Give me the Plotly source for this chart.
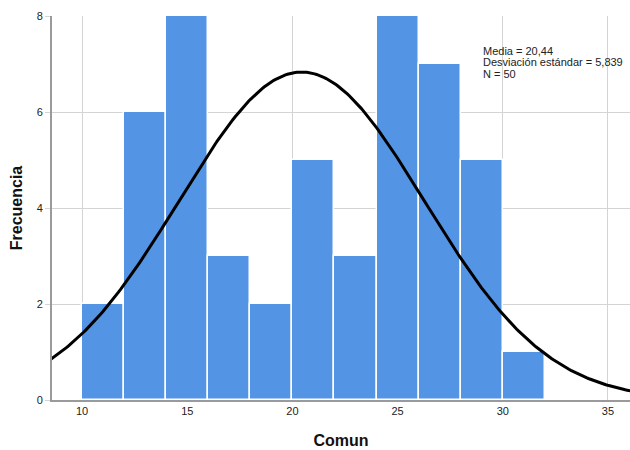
import numpy as np
import plotly.graph_objects as go

bin_starts = [10, 12, 14, 16, 18, 20, 22, 24, 26, 28, 30]
counts = [2, 6, 8, 3, 2, 5, 3, 8, 7, 5, 1]
bin_width = 2
mean = 20.44
sd = 5.839
n = 50
stats_lines = ["Media = 20,44", "Desviación estándar = 5,839", "N = 50"]

centers = [b + bin_width / 2 for b in bin_starts]

xs = np.linspace(8.5, 36.1, 300)
ys = n * bin_width / (sd * np.sqrt(2 * np.pi)) * np.exp(-0.5 * ((xs - mean) / sd) ** 2)

fig = go.Figure()
fig.add_trace(go.Bar(x=centers, y=counts, width=[bin_width] * len(counts),
                     marker=dict(color="#5494E4", line=dict(color="white", width=1.5)),
                     hoverinfo="skip"))
fig.add_trace(go.Scatter(x=xs, y=ys, mode="lines", line=dict(color="black", width=3),
                         hoverinfo="skip"))

annots = []
for i, t in enumerate(stats_lines):
    annots.append(dict(xref="x", yref="y", x=29.0, y=7.28 - i * 0.245, showarrow=False,
                       text=t, align="left", xanchor="left", yanchor="middle",
                       borderpad=0, font=dict(size=11, color="#222")))

fig.update_layout(
    width=630, height=450,
    margin=dict(l=52, r=0, t=16, b=50),
    plot_bgcolor="white", paper_bgcolor="white",
    showlegend=False, bargap=0,
    font=dict(family="Liberation Sans, Arial, sans-serif", size=11, color="#222"),
    xaxis=dict(range=[8.57, 36.05], tickvals=[10, 15, 20, 25, 30, 35], showgrid=True,
               gridcolor="#d4d4d4", gridwidth=1, showline=True, linecolor="#9a9a9a", linewidth=2,
               zeroline=False, ticks="", ticklen=0,
               title=dict(text="<b>Comun</b>", font=dict(size=16, color="#111"), standoff=19)),
    yaxis=dict(range=[0, 8], tickvals=[0, 2, 4, 6, 8], showgrid=True,
               gridcolor="#d4d4d4", gridwidth=1, showline=True, linecolor="#9a9a9a", linewidth=2,
               zeroline=False, ticks="outside", ticklen=5, tickcolor="#d4d4d4",
               title=dict(text="<b>Frecuencia</b>", font=dict(size=16, color="#111"), standoff=10)),
    annotations=annots,
)

fig.write_html("out.html")
